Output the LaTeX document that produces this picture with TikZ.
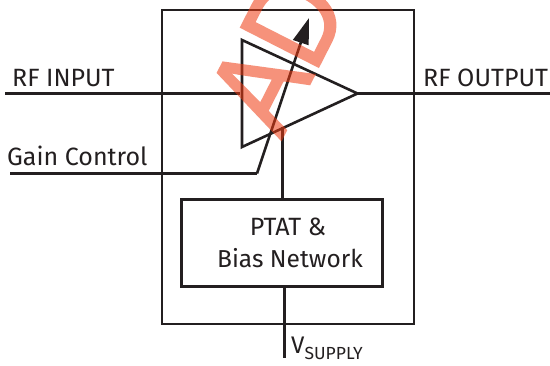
\documentclass[tikz,border=0pt]{standalone}
\usepackage{fontspec}
\setmainfont{Fira Sans}
\newfontfamily\wmfont[FakeBold=1.8]{Liberation Sans}
\usetikzlibrary{arrows.meta}
\definecolor{ink}{HTML}{231F20}
\definecolor{wm}{HTML}{EF3A10}
\tikzset{
  wire/.style={draw=ink,line width=3pt},
  thin wire/.style={draw=ink,line width=2.6pt},
  lbl/.style={inner sep=0pt,anchor=base west,text=ink,font=\fontsize{25}{29}\selectfont},
}
\begin{document}
\begin{tikzpicture}[x=1pt,y=-1pt]
\useasboundingbox (0,0) rectangle (550,366);
\fill[white] (0,0) rectangle (550,366);
\coordinate (inL) at (5,93.5);
\coordinate (inR) at (240,93.5);
\coordinate (t1) at (242,40);
\coordinate (t2) at (357.5,93.5);
\coordinate (t3) at (242,147);
\coordinate (outR) at (550,93.5);
\coordinate (gL) at (10,173.5);
\coordinate (gK) at (257,173.5);
\coordinate (gT) at (309,18);
\coordinate (ampS) at (282,127);
\coordinate (vEnd) at (284,358);
\node[draw=ink,line width=2.6pt,minimum width=252pt,minimum height=314pt,inner sep=0pt] (pkg) at (288,167) {};
\node[draw=ink,line width=3pt,minimum width=201pt,minimum height=87pt,inner sep=0pt] (bias) at (281.5,243.5) {};
\node[lbl,anchor=base] (ptat) at (288,236) {PTAT \&};
\node[lbl,anchor=base,font=\fontsize{24.5}{29}\selectfont] (biasnet) at (290,268) {Bias Network};
\draw[wire] (inL) -- (inR);
\draw[wire] (t2) -- (outR);
\draw[thin wire,line join=miter] (t1) -- (t2) -- (t3) -- cycle;
\draw[wire] (ampS) -- (ampS |- bias.north);
\draw[wire] (vEnd |- bias.south) -- (vEnd);
\draw[wire] (gL) -- (gK);
\draw[thin wire,-{Triangle[length=26pt,width=16pt]}] (gK) -- (gT);
\node[lbl] (rfin) at (12,87) {RF INPUT};
\node[lbl] (rfout) at (423,87) {RF OUTPUT};
\node[lbl] (gain) at (7,166) {Gain Control};
\node[lbl,font=\fontsize{24}{28}\selectfont] (vs) at (291,354) {V\raisebox{-6pt}{\fontsize{17.5}{20}\selectfont SUPPLY}};
\begin{scope}[transparency group,opacity=.55]
\clip (0,0) rectangle (550,366);
\node[inner sep=0pt,anchor=base west,rotate=63,text=wm,font=\wmfont\fontsize{126}{126}\selectfont] (wmk) at (281,140) {\scalebox{.87}[1]{AD}};
\end{scope}
\end{tikzpicture}
\end{document}
